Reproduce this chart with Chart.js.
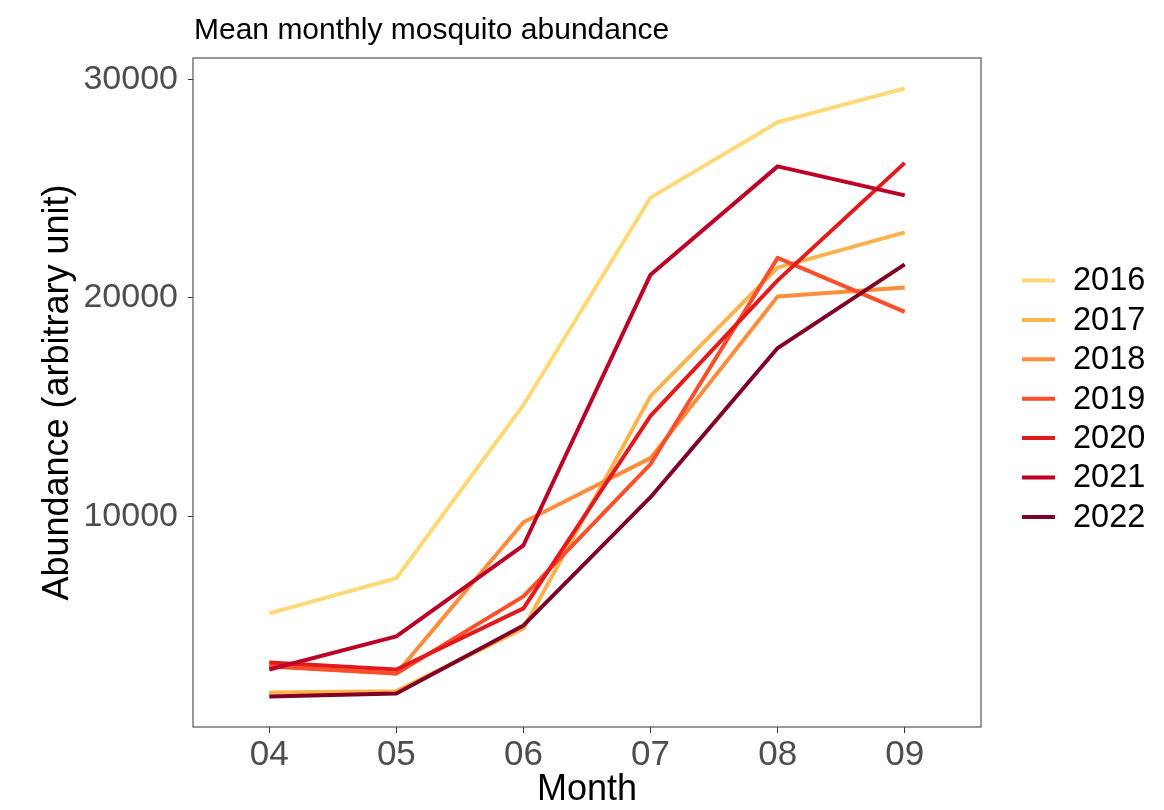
<!DOCTYPE html>
<html>
<head>
<meta charset="utf-8">
<script src="https://cdn.jsdelivr.net/npm/chart.js@4/dist/chart.umd.min.js"></script>
<style>
  body { margin: 0; background: #fff; }
  canvas { display: block; }
</style>
</head>
<body>
<canvas id="myChart" width="1164" height="810"></canvas>
<script>
// mean monthly abundance per year, months April to September
const months = ["04", "05", "06", "07", "08", "09"];
const years = ["2016", "2017", "2018", "2019", "2020", "2021", "2022"];
const colors = ["#FED976", "#FEB24C", "#FD8D3C", "#FC4E2A", "#E31A1C", "#BD0026", "#800026"];

const y2016 = [5550, 7160, 15090, 24590, 28040, 29590];
const y2017 = [1930, 1990, 4860, 15500, 21380, 23000];
const y2018 = [3150, 2800, 9720, 12660, 20060, 20470];
const y2019 = [3120, 2800, 6330, 12390, 21830, 19360];
const y2020 = [3300, 2980, 5780, 14590, 20800, 26180];
const y2021 = [2980, 4500, 8670, 21060, 26020, 24690];
const y2022 = [1740, 1880, 5000, 10870, 17700, 21530];

const yTicks = [10000, 20000, 30000];

const series = [y2016, y2017, y2018, y2019, y2020, y2021, y2022];

// 5% padding on the value range, like ggplot does
const all = series.flat();
const lo = Math.min(...all);
const hi = Math.max(...all);
const pad = (hi - lo) * 0.05;

const FONT = "'Liberation Sans', Arial, sans-serif";

const datasets = series.map(function (vals, i) {
  return {
    label: years[i],
    data: vals.map(function (v, j) { return { x: j, y: v }; }),
    borderColor: colors[i],
    borderWidth: 4,
    borderJoinStyle: "round",
    pointRadius: 0,
    tension: 0,
    fill: false,
    order: series.length - 1 - i,
  };
});

// title, panel border and legend
const decorations = {
  id: "decorations",
  afterDraw(chart) {
    const ctx = chart.ctx;
    const a = chart.chartArea;
    ctx.save();
    ctx.strokeStyle = "#555555";
    ctx.lineWidth = 1.2;
    ctx.strokeRect(a.left, a.top, a.right - a.left, a.bottom - a.top);

    ctx.fillStyle = "#000";
    ctx.font = "30px " + FONT;
    ctx.textAlign = "left";
    ctx.textBaseline = "alphabetic";
    ctx.fillText("Mean monthly mosquito abundance", a.left + 1, 39);

    ctx.font = "32.5px " + FONT;
    ctx.textBaseline = "middle";
    for (let i = 0; i < years.length; i++) {
      const y = 280.5 + i * 39.4;
      ctx.strokeStyle = colors[i];
      ctx.lineWidth = 4;
      ctx.beginPath();
      ctx.moveTo(1022, y);
      ctx.lineTo(1055, y);
      ctx.stroke();
      ctx.fillText(years[i], 1073, y + 1);
    }
    ctx.restore();
  },
};

const ctx = document.getElementById("myChart").getContext("2d");
const myChart = new Chart(ctx, {
  type: "line",
  data: { datasets: datasets },
  plugins: [decorations],
  options: {
    responsive: false,
    animation: false,
    layout: { padding: { top: 58, right: 183, left: 0, bottom: 0 } },
    plugins: {
      legend: { display: false },
      tooltip: { enabled: false },
    },
    scales: {
      x: {
        type: "linear",
        min: -0.6,
        max: 5.6,
        afterBuildTicks: function (axis) {
          axis.ticks = months.map(function (m, i) { return { value: i }; });
        },
        afterFit: function (axis) { axis.height = 83; },
        ticks: {
          callback: function (v) { return months[v]; },
          color: "#4D4D4D",
          font: { family: FONT, size: 35 },
          padding: 1,
          maxRotation: 0,
        },
        grid: { drawOnChartArea: false, drawTicks: true, tickLength: 6, color: "#333333" },
        border: { display: false },
        title: {
          display: true,
          text: "Month",
          color: "#000",
          font: { family: FONT, size: 36, lineHeight: 1 },
          padding: { top: 0, bottom: 2 },
        },
      },
      y: {
        min: lo - pad,
        max: hi + pad,
        afterBuildTicks: function (axis) {
          axis.ticks = yTicks.map(function (v) { return { value: v }; });
        },
        afterFit: function (axis) { axis.width = 193; },
        ticks: {
          callback: function (v) { return String(v); },
          color: "#4D4D4D",
          font: { family: FONT, size: 34 },
          padding: 10,
        },
        grid: { drawOnChartArea: false, drawTicks: true, tickLength: 5, color: "#333333" },
        border: { display: false },
        title: {
          display: true,
          text: "Abundance (arbitrary unit)",
          color: "#000",
          font: { family: FONT, size: 36, lineHeight: 1.2 },
          padding: { top: 36, bottom: 0 },
        },
      },
    },
  },
});
</script>
</body>
</html>
